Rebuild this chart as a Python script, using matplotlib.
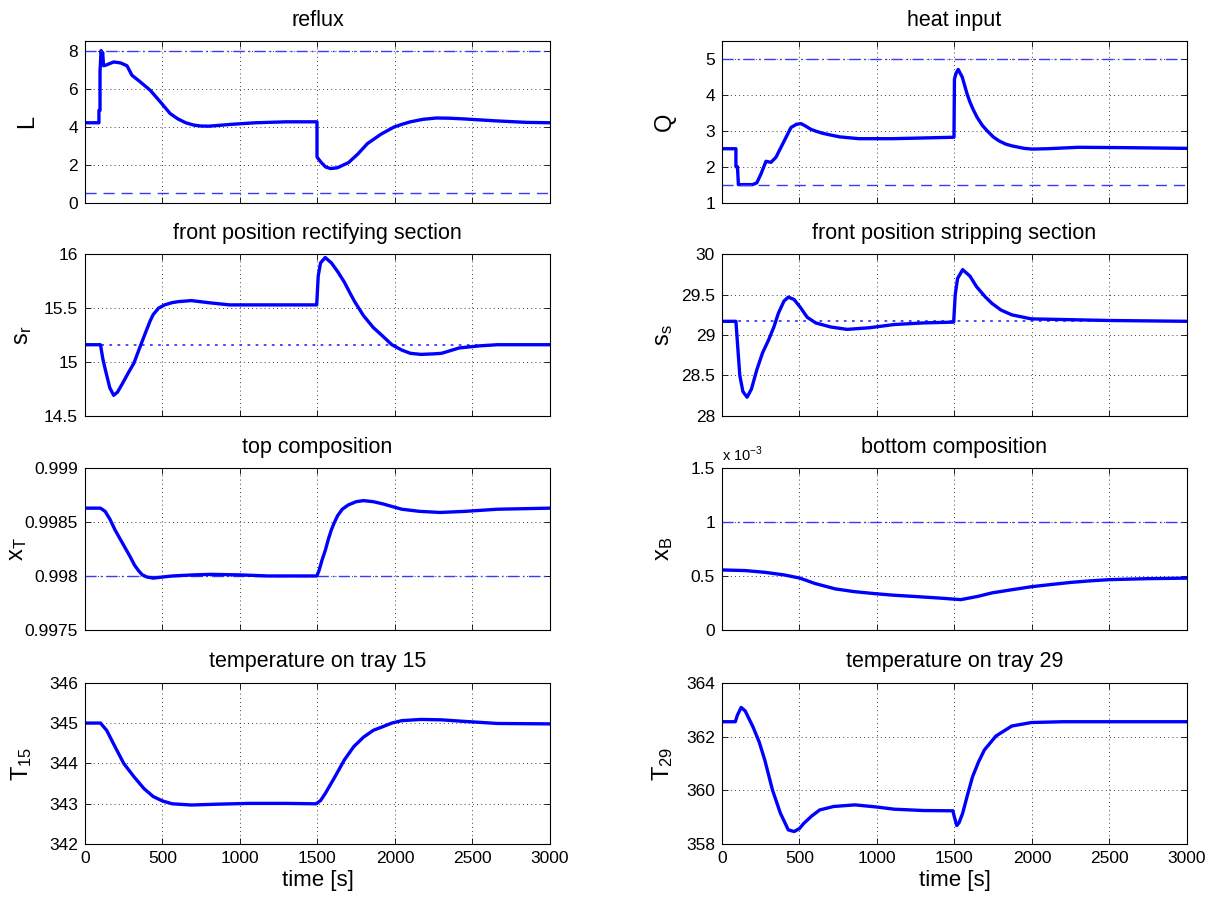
#!/usr/bin/env python3
"""
Closed-loop response of the distillation column: inputs, front positions,
compositions and tray temperatures over 3000 s.
"""

import numpy as np
import matplotlib
matplotlib.use('Agg')
import matplotlib.pyplot as plt
from matplotlib.ticker import FixedLocator, FuncFormatter

plt.rcParams['font.family'] = ['Liberation Sans', 'DejaVu Sans']
plt.rcParams['mathtext.fontset'] = 'custom'
plt.rcParams['mathtext.rm'] = 'Liberation Sans'

# ---- data ----
t_L = [0, 90, 90, 97, 97, 104, 110, 114, 120, 140, 185, 230, 271, 303, 357, 421,
       486, 550, 600, 650, 700, 744, 800, 950, 1100, 1300, 1497, 1497, 1521,
       1553, 1585, 1628, 1700, 1760, 1822, 1910, 1995, 2050, 2100, 2180, 2267,
       2350, 2450, 2650, 2850, 3000]
L = [4.2, 4.2, 4.85, 4.85, 6.9, 8.0, 7.7, 7.9, 7.2, 7.25, 7.4, 7.35, 7.2, 6.7,
     6.35, 5.91, 5.3, 4.68, 4.4, 4.2, 4.08, 4.03, 4.02, 4.12, 4.2, 4.25, 4.25,
     2.4, 2.14, 1.87, 1.79, 1.83, 2.1, 2.55, 3.1, 3.6, 3.98, 4.13, 4.25, 4.38,
     4.45, 4.44, 4.4, 4.3, 4.22, 4.2]

t_Q = [0, 90, 90, 100, 106, 198, 225, 252, 284, 316, 348, 402, 445, 480, 510,
       540, 574, 605, 650, 692, 760, 883, 1100, 1300, 1497, 1500, 1510, 1524,
       1550, 1582, 1600, 1620, 1647, 1680, 1711, 1750, 1787, 1830, 1870, 1950,
       2000, 2100, 2300, 2600, 3000]
Q = [2.5, 2.5, 2.0, 2.0, 1.5, 1.5, 1.55, 1.8, 2.15, 2.12, 2.26, 2.72, 3.09, 3.18,
     3.2, 3.13, 3.04, 2.99, 2.93, 2.89, 2.83, 2.78, 2.78, 2.8, 2.82, 4.44, 4.6,
     4.71, 4.5, 4.02, 3.8, 3.6, 3.37, 3.15, 3.0, 2.83, 2.72, 2.63, 2.58, 2.51,
     2.49, 2.5, 2.54, 2.53, 2.51]

t_sr = [0, 100, 115, 131, 160, 185, 210, 242, 280, 316, 350, 390, 420, 440, 475,
        514, 560, 600, 686, 800, 933, 1180, 1495, 1505, 1520, 1550, 1590, 1630,
        1674, 1710, 1740, 1797, 1860, 1921, 1980, 2044, 2100, 2168, 2250, 2300,
        2415, 2550, 2662, 3000]
sr = [15.16, 15.16, 15.03, 14.93, 14.76, 14.69, 14.72, 14.8, 14.9, 14.99, 15.12,
      15.27, 15.38, 15.44, 15.5, 15.53, 15.55, 15.56, 15.57, 15.55, 15.53, 15.53,
      15.53, 15.8, 15.92, 15.97, 15.92, 15.84, 15.74, 15.64, 15.56, 15.43, 15.32,
      15.24, 15.16, 15.11, 15.08, 15.07, 15.075, 15.08, 15.13, 15.15, 15.16, 15.16]
sr_ref = 15.16

t_ss = [0, 90, 100, 115, 135, 162, 190, 225, 262, 301, 335, 364, 400, 428, 465,
        503, 550, 605, 700, 807, 950, 1111, 1300, 1495, 1505, 1520, 1553, 1600,
        1642, 1700, 1743, 1800, 1870, 1996, 2250, 2502, 3000]
ss = [29.17, 29.17, 28.9, 28.5, 28.3, 28.23, 28.33, 28.57, 28.78, 28.94, 29.1,
      29.27, 29.42, 29.47, 29.44, 29.35, 29.22, 29.15, 29.1, 29.07, 29.09, 29.13,
      29.15, 29.16, 29.5, 29.7, 29.81, 29.73, 29.6, 29.47, 29.39, 29.31, 29.25,
      29.2, 29.19, 29.18, 29.17]
ss_ref = 29.17

t_xT = [0, 100, 130, 160, 193, 240, 291, 320, 345, 370, 400, 440, 500, 563, 700,
        810, 1000, 1180, 1496, 1510, 1530, 1551, 1570, 1590, 1610, 1630, 1660,
        1699, 1750, 1797, 1860, 1921, 2044, 2160, 2291, 2450, 2662, 3000]
xT = [0.99863, 0.99863, 0.9986, 0.99853, 0.99843, 0.99831, 0.99818, 0.9981,
      0.99805, 0.99801, 0.99799, 0.99798, 0.99799, 0.998, 0.99801, 0.998015,
      0.99801, 0.998, 0.998, 0.99805, 0.99815, 0.99824, 0.99834, 0.99843,
      0.9985, 0.99856, 0.99862, 0.99866, 0.99869, 0.9987, 0.99869, 0.99867,
      0.99862, 0.9986, 0.99859, 0.9986, 0.99862, 0.99863]
xT_min = 0.998

t_xB = [0, 150, 276, 400, 503, 600, 731, 850, 984, 1100, 1237, 1400, 1541, 1650,
        1743, 1870, 1996, 2120, 2249, 2380, 2502, 2750, 3000]
xB = np.array([0.556, 0.55, 0.534, 0.51, 0.48, 0.43, 0.38, 0.355, 0.336, 0.322,
               0.31, 0.295, 0.28, 0.31, 0.343, 0.372, 0.40, 0.42, 0.44, 0.455,
               0.466, 0.475, 0.48]) * 1e-3
xB_max = 1e-3

t_T15 = [0, 100, 140, 193, 250, 316, 380, 440, 500, 563, 686, 850, 1057, 1300,
         1491, 1520, 1551, 1610, 1674, 1735, 1797, 1860, 1921, 1980, 2044, 2168,
         2300, 2415, 2662, 3000]
T15 = [345, 345, 344.82, 344.42, 344.0, 343.67, 343.38, 343.18, 343.07, 343.0,
       342.97, 342.99, 343.01, 343.01, 343.0, 343.08, 343.26, 343.65, 344.09,
       344.42, 344.65, 344.82, 344.91, 345.0, 345.06, 345.09, 345.08, 345.05,
       344.99, 344.98]

t_T29 = [0, 86, 100, 124, 150, 200, 240, 276, 326, 377, 428, 466, 500, 529, 580,
         630, 720, 858, 1000, 1111, 1300, 1490, 1500, 1515, 1530, 1553, 1585,
         1617, 1655, 1693, 1768, 1870, 1996, 2200, 3000]
T29 = [362.55, 362.55, 362.8, 363.08, 362.95, 362.36, 361.8, 361.13, 360.01,
       359.15, 358.53, 358.47, 358.58, 358.78, 359.05, 359.27, 359.4, 359.46,
       359.38, 359.3, 359.25, 359.24, 359.0, 358.69, 358.8, 359.15, 359.85,
       360.51, 361.05, 361.5, 362.02, 362.39, 362.52, 362.55, 362.55]

time_ticks = [0, 500, 1000, 1500, 2000, 2500, 3000]

BLUE = '#0000ff'
REF_BLUE = '#3a3aff'
DASHDOT = (0, (8, 3, 1.2, 3))
DASHED = (0, (8, 5))
DOTTED = (0, (1.5, 3))


def style_axis(ax, ylim, yticks, title, ylabel, bottom, label_x, fmt='%g'):
    ax.set_xlim(0, 3000)
    ax.set_ylim(*ylim)
    ax.xaxis.set_major_locator(FixedLocator(time_ticks))
    ax.yaxis.set_major_locator(FixedLocator(yticks))
    if callable(fmt):
        ax.yaxis.set_major_formatter(FuncFormatter(fmt))
    else:
        ax.yaxis.set_major_formatter(FuncFormatter(lambda v, p: fmt % v))
    ax.tick_params(direction='in', top=True, right=True, length=4, width=0.6,
                   labelsize=12.5, pad=5)
    ax.grid(True, color='black', linestyle=(0, (1, 4)), linewidth=0.6)
    for sp in ax.spines.values():
        sp.set_linewidth(0.8)
    ax.set_title(title, fontsize=15.5, pad=11)
    ax.set_ylabel(ylabel, fontsize=17)
    ax.yaxis.set_label_coords(label_x, 0.5)
    if bottom:
        ax.set_xlabel('time [s]', fontsize=16, labelpad=3)
    else:
        ax.set_xticklabels([])


def main():
    fig = plt.figure(figsize=(12.14, 8.97), dpi=100)
    lefts = [0.070, 0.5947]
    bottoms = [0.7742, 0.5365, 0.2979, 0.0589]
    w, h = 0.383, 0.18
    axes = [[fig.add_axes([lx, b, w, h]) for lx in lefts] for b in bottoms]

    lw = 2.4
    ref_lw = 1.0
    # row 1: manipulated inputs
    ax = axes[0][0]
    ax.plot(t_L, L, color=BLUE, lw=lw)
    ax.axhline(8, color=REF_BLUE, lw=ref_lw, linestyle=DASHDOT)
    ax.axhline(0.5, color=REF_BLUE, lw=ref_lw, linestyle=DASHED)
    style_axis(ax, (0, 8.5), [0, 2, 4, 6, 8], 'reflux', 'L', False, -0.10)

    ax = axes[0][1]
    ax.plot(t_Q, Q, color=BLUE, lw=lw)
    ax.axhline(5, color=REF_BLUE, lw=ref_lw, linestyle=DASHDOT)
    ax.axhline(1.5, color=REF_BLUE, lw=ref_lw, linestyle=DASHED)
    style_axis(ax, (1, 5.5), [1, 2, 3, 4, 5], 'heat input', 'Q', False, -0.10)

    # row 2: front positions
    ax = axes[1][0]
    ax.axhline(sr_ref, color=REF_BLUE, lw=1.3, linestyle=DOTTED)
    ax.plot(t_sr, sr, color=BLUE, lw=lw)
    style_axis(ax, (14.5, 16), [14.5, 15, 15.5, 16],
               'front position rectifying section', r'$\mathregular{s_r}$',
               False, -0.11)

    ax = axes[1][1]
    ax.axhline(ss_ref, color=REF_BLUE, lw=1.3, linestyle=DOTTED)
    ax.plot(t_ss, ss, color=BLUE, lw=lw)
    style_axis(ax, (28, 30), [28, 28.5, 29, 29.5, 30],
               'front position stripping section', r'$\mathregular{s_s}$',
               False, -0.10)

    # row 3: compositions
    ax = axes[2][0]
    ax.axhline(xT_min, color=REF_BLUE, lw=ref_lw, linestyle=DASHDOT)
    ax.plot(t_xT, xT, color=BLUE, lw=lw)
    style_axis(ax, (0.9975, 0.999), [0.9975, 0.998, 0.9985, 0.999],
               'top composition', r'$\mathregular{x_T}$', False, -0.12)

    ax = axes[2][1]
    ax.axhline(xB_max, color=REF_BLUE, lw=ref_lw, linestyle=DASHDOT)
    ax.plot(t_xB, xB, color=BLUE, lw=lw)
    style_axis(ax, (0, 1.5e-3), [0, 0.5e-3, 1e-3, 1.5e-3],
               'bottom composition', r'$\mathregular{x_B}$', False, -0.10,
               fmt=lambda v, p: '%g' % round(v * 1e3, 6))
    ax.text(0.0, 1.025, r'x 10$^{\mathregular{-3}}$', transform=ax.transAxes,
            fontsize=10.5, ha='left', va='bottom')

    # row 4: tray temperatures
    ax = axes[3][0]
    ax.plot(t_T15, T15, color=BLUE, lw=lw)
    style_axis(ax, (342, 346), [342, 343, 344, 345, 346],
               'temperature on tray 15', r'$\mathregular{T_{15}}$', True, -0.11)

    ax = axes[3][1]
    ax.plot(t_T29, T29, color=BLUE, lw=lw)
    style_axis(ax, (358, 364), [358, 360, 362, 364],
               'temperature on tray 29', r'$\mathregular{T_{29}}$', True, -0.10)

    fig.savefig('out.png', dpi=100)


if __name__ == "__main__":
    main()
